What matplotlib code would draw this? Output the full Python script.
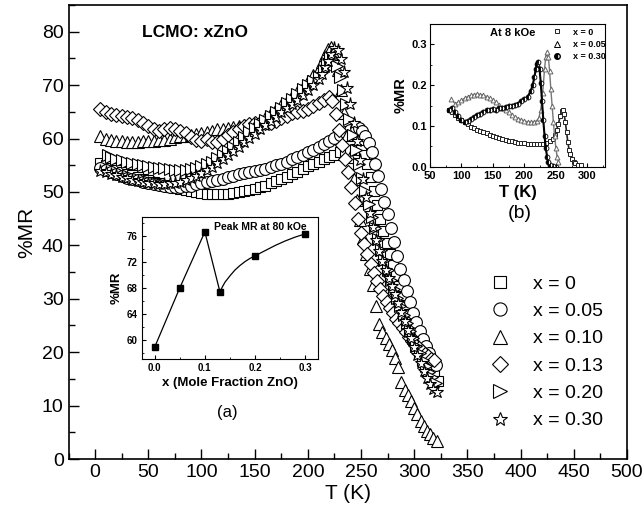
import matplotlib
matplotlib.use("Agg")
import matplotlib.pyplot as plt
from matplotlib.ticker import MultipleLocator
from matplotlib.lines import Line2D

plt.rcParams['font.family'] = ['Liberation Sans', 'DejaVu Sans']

# ---------------- main panel: %MR vs T (80 kOe) ----------------
labels = ['x = 0', 'x = 0.05', 'x = 0.10', 'x = 0.13', 'x = 0.20', 'x = 0.30']
markers = ['s', 'o', '^', 'D', '>', '*']

T_x000 = [5, 10, 15, 20, 25, 30, 35, 40, 45, 50, 55, 60, 65, 70, 75, 80, 85, 90, 95, 100,
          105, 110, 115, 120, 125, 130, 135, 140, 145, 150, 155, 160, 165, 170, 175, 180, 185, 190, 195, 200,
          205, 210, 215, 220, 225, 230, 235, 240, 245, 250,
          253, 256, 259, 262, 265, 268, 271, 274, 277, 280, 283, 286, 289, 292, 295, 298, 301, 304, 307, 310,
          313, 316, 319, 322]
MR_x000 = [55.5, 55.0, 54.5, 54.1, 53.7, 53.4, 53.1, 52.8, 52.5, 52.2, 51.9, 51.6, 51.3, 51.0, 50.8, 50.6, 50.4, 50.2, 50.0, 49.8,
           49.7, 49.6, 49.6, 49.6, 49.7, 49.8, 49.9, 50.1, 50.3, 50.6, 50.9, 51.2, 51.6, 52.0, 52.4, 52.8, 53.3, 53.8, 54.3, 54.8,
           55.3, 55.7, 56.2, 56.6, 57.0, 57.4, 57.7, 57.9, 58.0, 57.8,
           57.0, 55.2, 52.8, 50.2, 47.6, 45.0, 42.6, 40.4, 38.4, 36.4, 34.4, 32.4, 30.5, 28.8, 27.2, 25.7, 24.2, 22.8, 21.5, 20.2,
           18.8, 17.4, 16.0, 14.6]

T_x005 = [5, 10, 15, 20, 25, 30, 35, 40, 45, 50, 55, 60, 65, 70, 75, 80, 85, 90, 95, 100,
          105, 110, 115, 120, 125, 130, 135, 140, 145, 150, 155, 160, 165, 170, 175, 180, 185, 190, 195, 200,
          205, 210, 215, 220, 225, 230, 235, 240, 245,
          248, 251, 254, 257, 260, 263, 266, 269, 272, 275, 278, 281, 284, 287, 290, 293, 296, 299, 302, 305,
          308, 311, 314, 317, 320]
MR_x005 = [54.5, 54.1, 53.7, 53.3, 53.0, 52.7, 52.4, 52.2, 51.9, 51.7, 51.5, 51.3, 51.1, 51.0, 51.0, 51.0, 51.1, 51.2, 51.4, 51.6,
           51.8, 52.0, 52.3, 52.5, 52.8, 53.0, 53.3, 53.5, 53.7, 53.9, 54.1, 54.3, 54.6, 55.0, 55.3, 55.7, 56.1, 56.5, 56.9, 57.4,
           57.9, 58.4, 58.9, 59.5, 60.1, 60.7, 61.2, 61.6, 62.0,
           61.9, 61.4, 60.5, 59.2, 57.4, 55.3, 53.0, 50.6, 48.2, 45.8, 43.3, 40.6, 38.0, 35.6, 33.5, 31.5, 29.4, 27.4, 25.6, 24.0,
           22.5, 21.1, 19.8, 18.6, 17.6]

T_x010 = [5, 10, 15, 20, 25, 30, 35, 40, 45, 50, 55, 60, 65, 70, 75, 80, 85, 90, 95, 100,
          105, 110, 115, 120, 125, 130, 135, 140, 145, 150, 155, 160, 165, 170, 175, 180, 185, 190, 195, 200,
          205, 210,
          213, 216, 219, 222, 225, 228, 231, 234, 237, 240, 243, 246, 249, 252, 255, 258, 261, 264, 267, 270,
          273, 276, 279, 282, 285, 288, 291, 294, 297, 300, 303, 306, 309, 312, 315, 318, 321]
MR_x010 = [60.5, 60.0, 59.8, 59.6, 59.5, 59.4, 59.3, 59.4, 59.5, 59.6, 59.6, 59.7, 59.8, 60.0, 60.2, 60.4, 60.5, 60.7, 60.9, 61.0,
           61.2, 61.5, 61.7, 61.8, 62.0, 62.2, 62.3, 62.5, 62.6, 62.8, 63.2, 63.9, 64.7, 65.5, 66.3, 67.1, 67.9, 68.7, 69.7, 70.8,
           71.9, 73.0,
           74.4, 75.7, 76.8, 77.2, 75.8, 72.8, 69.0, 64.8, 60.6, 56.5, 52.4, 48.5, 44.8, 41.4, 38.3, 35.5, 32.6, 28.6, 25.3, 23.8,
           22.7, 21.6, 20.4, 18.9, 17.3, 14.5, 13.0, 12.0, 10.9, 9.6, 8.5, 7.2, 6.1, 5.3, 4.7, 4.0, 3.3]

T_x013 = [5, 10, 15, 20, 25, 30, 35, 40, 45, 50, 55, 60, 65, 70, 75, 80, 85, 90, 95, 100,
          105, 110, 115, 120, 125, 130, 135, 140, 145, 150, 155, 160, 165, 170, 175, 180, 185, 190, 195, 200,
          205, 210, 215, 220,
          223, 226, 229, 232, 235, 238, 241, 244, 247, 250, 253, 256, 259, 262, 265, 268, 271, 274, 277, 280,
          283, 286, 289, 292, 295, 298, 301, 304, 307, 310, 313, 316, 319]
MR_x013 = [65.5, 65.0, 64.6, 64.4, 64.2, 64.0, 63.8, 63.5, 63.0, 62.3, 61.7, 61.5, 61.8, 62.0, 61.8, 61.5, 61.0, 60.2, 59.8, 59.6,
           59.9, 59.3, 59.4, 60.0, 60.7, 61.2, 61.8, 62.3, 62.7, 63.0, 63.0, 62.9, 63.0, 63.3, 63.8, 64.3, 64.7, 65.0, 65.2, 65.6,
           66.1, 66.7, 67.3, 67.8,
           67.0, 64.6, 61.6, 58.8, 56.2, 53.8, 51.0, 48.0, 45.0, 42.4, 40.2, 38.3, 36.5, 34.8, 33.3, 31.9, 30.6, 29.4, 28.3, 27.3,
           26.3, 25.4, 24.5, 23.7, 22.9, 22.1, 21.4, 20.8, 20.2, 19.7, 19.2, 18.8, 18.5]

T_x020 = [12, 15, 20, 25, 30, 35, 40, 45, 50, 55, 60, 65, 70, 75, 80, 85, 90, 95, 100,
          105, 110, 115, 120, 125, 130, 135, 140, 145, 150, 155, 160, 165, 170, 175, 180, 185, 190, 195, 200,
          205, 210, 215,
          218, 221, 224, 227, 230, 233, 236, 239, 242, 245, 248, 251, 254, 257, 260, 263, 266, 269, 272, 275,
          278, 281, 284, 287, 290, 293, 296, 299, 302, 305, 308, 311, 314, 317, 320]
MR_x020 = [57.0, 56.6, 56.2, 55.9, 55.6, 55.4, 55.2, 55.0, 54.8, 54.7, 54.5, 54.4, 54.3, 54.2, 54.2, 54.2, 54.3, 54.5, 54.8,
           55.2, 55.7, 56.3, 57.0, 57.7, 58.5, 59.4, 60.3, 61.2, 62.0, 62.8, 63.5, 64.3, 65.0, 65.8, 66.6, 67.4, 68.3, 69.2, 70.0,
           70.8, 71.6, 72.8,
           74.2, 75.3, 75.0, 73.6, 71.5, 69.0, 66.4, 63.6, 60.7, 57.9, 55.2, 52.6, 50.1, 47.7, 45.4, 43.2, 41.1, 39.1, 37.2, 35.3,
           33.5, 31.8, 30.2, 28.6, 27.0, 25.5, 24.0, 22.6, 21.2, 19.9, 18.6, 17.4, 16.3, 15.3, 14.3]

T_x030 = [5, 10, 15, 20, 25, 30, 35, 40, 45, 50, 55, 60, 65, 70, 75, 80, 85, 90, 95, 100,
          105, 110, 115, 120, 125, 130, 135, 140, 145, 150, 155, 160, 165, 170, 175, 180, 185, 190, 195, 200,
          205, 210,
          213, 216, 219, 222, 225, 228, 231, 234, 237, 240, 243, 246, 249, 252, 255, 258, 261, 264, 267, 270,
          273, 276, 279, 282, 285, 288, 291, 294, 297, 300, 303, 306, 309, 312, 315, 318, 321]
MR_x030 = [54.0, 53.7, 53.4, 53.1, 52.8, 52.6, 52.3, 52.1, 51.9, 51.7, 51.6, 51.5, 51.5, 51.6, 51.7, 51.9, 52.2, 52.6, 53.0, 53.5,
           54.1, 54.7, 55.4, 56.1, 56.9, 57.7, 58.5, 59.3, 60.1, 60.9, 61.7, 62.5, 63.3, 64.1, 64.9, 65.7, 66.5, 67.3, 68.1, 69.0,
           70.0, 71.1,
           72.1, 73.3, 74.6, 75.9, 77.0, 76.6, 74.8, 72.4, 69.5, 66.4, 63.0, 59.5, 56.0, 52.5, 49.0, 46.0, 43.4, 41.0, 38.9, 37.0,
           35.4, 33.9, 32.4, 30.9, 29.3, 27.6, 25.9, 24.2, 22.6, 21.0, 19.4, 17.9, 16.5, 15.2, 14.1, 13.2, 12.6]

# ---------------- inset (a): peak MR vs x ----------------
a_x = [0.0, 0.05, 0.10, 0.13, 0.20, 0.30]
a_peak = [58.8, 68.0, 76.7, 67.4, 73.0, 76.4]
# hand-drawn guide curve
a_curve_x = [0.13, 0.135, 0.14, 0.15, 0.16, 0.17, 0.18, 0.19, 0.20, 0.22, 0.24, 0.26, 0.28, 0.30]
a_curve_y = [67.4, 68.2, 68.9, 69.9, 70.8, 71.5, 72.1, 72.6, 73.0, 73.8, 74.6, 75.3, 75.9, 76.4]

# ---------------- inset (b): %MR at 8 kOe ----------------
b_labels = ['x = 0', 'x = 0.05', 'x = 0.30']
b_T0 = [80, 85, 90, 95, 100, 105, 110, 115, 120, 125, 130, 135, 140, 145, 150, 155, 160, 165, 170, 175,
        180, 185, 190, 195, 200, 205, 210, 215, 220, 225, 230, 235, 240, 245,
        248, 251, 254, 257, 259, 261, 263, 265, 267, 269, 271, 273, 275, 278, 281, 285, 290]
b_MR0 = [0.140, 0.135, 0.128, 0.120, 0.115, 0.110, 0.105, 0.098, 0.094, 0.090, 0.087, 0.085, 0.082, 0.078, 0.075,
         0.072, 0.070, 0.068, 0.066, 0.064, 0.062, 0.060, 0.058, 0.057, 0.057, 0.056, 0.055, 0.055, 0.055, 0.055,
         0.056, 0.058, 0.062, 0.068,
         0.078, 0.090, 0.105, 0.125, 0.136, 0.140, 0.130, 0.110, 0.085, 0.060, 0.042, 0.030, 0.020, 0.012, 0.008,
         0.005, 0.003]
b_T1 = [84, 90, 95, 100, 105, 110, 115, 120, 125, 130, 135, 140, 145, 150, 155, 160, 165, 170, 175, 180,
        185, 190, 195, 200, 205, 210, 215, 220,
        223, 226, 229, 232, 234, 236, 238, 240, 242, 244, 246, 248, 250, 252, 254]
b_MR1 = [0.165, 0.155, 0.158, 0.163, 0.168, 0.172, 0.175, 0.177, 0.178, 0.177, 0.175, 0.172, 0.168, 0.163, 0.158,
         0.152, 0.145, 0.139, 0.133, 0.127, 0.122, 0.118, 0.115, 0.112, 0.110, 0.110, 0.110, 0.112,
         0.120, 0.140, 0.180, 0.240, 0.270, 0.282, 0.270, 0.235, 0.190, 0.150, 0.110, 0.075, 0.045, 0.025, 0.012]
b_T2 = [80, 85, 90, 95, 100, 105, 110, 115, 120, 125, 130, 135, 140, 145, 150, 155, 160, 165, 170, 175,
        180, 185, 190, 195, 200, 205, 210,
        213, 216, 218, 220, 222, 224, 226, 228, 230, 232, 234, 236, 238, 241, 245, 250]
b_MR2 = [0.140, 0.145, 0.135, 0.125, 0.115, 0.110, 0.112, 0.118, 0.122, 0.126, 0.130, 0.135, 0.138, 0.140, 0.142,
         0.140, 0.143, 0.145, 0.147, 0.148, 0.150, 0.152, 0.155, 0.160, 0.165, 0.172, 0.185,
         0.200, 0.220, 0.240, 0.252, 0.257, 0.240, 0.205, 0.160, 0.115, 0.075, 0.045, 0.025, 0.012, 0.005, 0.002, 0.0]

fig = plt.figure(figsize=(6.44, 5.15), dpi=100)
ax = fig.add_axes([0.1064, 0.1087, 0.8672, 0.8816])

series = [(T_x000, MR_x000), (T_x005, MR_x005), (T_x010, MR_x010),
          (T_x013, MR_x013), (T_x020, MR_x020), (T_x030, MR_x030)]
sizes = [7.5, 8.5, 8.5, 7.5, 8.5, 9.5]
for (t, mr), m, s, lab in zip(series, markers, sizes, labels):
    ax.plot(t, mr, linestyle='none', marker=m, markersize=s, markerfacecolor='white',
            markeredgecolor='black', markeredgewidth=0.8, label=lab)

ax.set_xlim(-25, 500)
ax.set_ylim(0, 85)
ax.xaxis.set_major_locator(MultipleLocator(50))
ax.xaxis.set_minor_locator(MultipleLocator(25))
ax.yaxis.set_major_locator(MultipleLocator(10))
ax.yaxis.set_minor_locator(MultipleLocator(5))
ax.tick_params(which='both', direction='in', top=False, right=False, labelsize=14)
ax.tick_params(which='major', length=7, width=1)
ax.tick_params(which='minor', length=4, width=1)
for sp in ax.spines.values():
    sp.set_linewidth(1.2)
ax.set_xlabel('T (K)', fontsize=15, labelpad=2)
ax.set_ylabel('%MR', fontsize=15, labelpad=4)
ax.text(0.1316, 0.9405, 'LCMO: xZnO', transform=ax.transAxes, fontsize=12.5,
        fontweight='bold', va='center', ha='left')

handles = [Line2D([], [], linestyle='none', marker=m, markersize=s + 1, markerfacecolor='white',
                  markeredgecolor='black', markeredgewidth=0.8) for m, s in zip(markers, sizes)]
ax.legend(handles, labels, loc='upper left', bbox_to_anchor=(0.755, 0.405), frameon=False,
          fontsize=14, handlelength=1.0, handletextpad=1.2, labelspacing=0.5,
          borderpad=0, borderaxespad=0)

# inset (a)
axa = fig.add_axes([0.2205, 0.3029, 0.2733, 0.2757])
axa.plot(a_x[:4], a_peak[:4], color='black', linewidth=0.9)
axa.plot(a_curve_x, a_curve_y, color='black', linewidth=0.9)
axa.plot(a_x, a_peak, linestyle='none', marker='s', markersize=4, color='black')
axa.set_xlim(-0.025, 0.325)
axa.set_ylim(57, 79)
axa.xaxis.set_major_locator(MultipleLocator(0.1))
axa.xaxis.set_minor_locator(MultipleLocator(0.05))
axa.yaxis.set_major_locator(MultipleLocator(4))
axa.yaxis.set_minor_locator(MultipleLocator(2))
axa.tick_params(which='both', direction='in', labelsize=7, pad=3)
axa.tick_params(which='major', length=3)
axa.tick_params(which='minor', length=1.5)
for lab in axa.get_xticklabels() + axa.get_yticklabels():
    lab.set_fontweight('bold')
axa.set_xlabel('x (Mole Fraction ZnO)', fontsize=9.5, fontweight='bold', labelpad=3)
axa.set_ylabel('%MR', fontsize=9.5, fontweight='bold', labelpad=3)
axa.text(0.67, 0.93, 'Peak MR at 80 kOe', transform=axa.transAxes, fontsize=7.5,
         fontweight='bold', ha='center', va='center')
fig.text(227 / 644, 1 - 412 / 515, '(a)', fontsize=12, ha='center', va='center')

# inset (b)
axb = fig.add_axes([0.6677, 0.6763, 0.2717, 0.2771])
axb.plot(b_T0, b_MR0, color='#222222', linewidth=1.2, marker='s', markersize=3.2,
         markerfacecolor='white', markeredgecolor='#222222', markeredgewidth=0.7)
axb.plot(b_T1, b_MR1, color='#777777', linewidth=1.0, marker='^', markersize=3.5,
         markerfacecolor='white', markeredgecolor='#666666', markeredgewidth=0.7)
axb.plot(b_T2, b_MR2, color='black', linewidth=1.5, marker='o', markersize=3.5,
         fillstyle='left', markerfacecolor='black', markerfacecoloralt='white',
         markeredgecolor='black', markeredgewidth=0.6)
axb.set_xlim(50, 328)
axb.set_ylim(0, 0.35)
axb.xaxis.set_major_locator(MultipleLocator(50))
axb.xaxis.set_minor_locator(MultipleLocator(25))
axb.yaxis.set_major_locator(MultipleLocator(0.1))
axb.yaxis.set_minor_locator(MultipleLocator(0.05))
axb.tick_params(which='both', direction='in', labelsize=8, pad=2)
axb.tick_params(axis='x', pad=3)
axb.tick_params(which='major', length=3)
axb.tick_params(which='minor', length=1.5)
axb.yaxis.set_major_formatter(plt.FuncFormatter(lambda v, p: f'{v:.1f}'))
for lab in axb.get_xticklabels() + axb.get_yticklabels():
    lab.set_fontweight('bold')
axb.set_xlabel('T (K)', fontsize=12, fontweight='bold', labelpad=3)
axb.set_ylabel('%MR', fontsize=10.5, fontweight='bold', labelpad=3)
axb.text(0.474, 0.937, 'At 8 kOe', transform=axb.transAxes, fontsize=8,
         fontweight='bold', ha='center', va='center')
b_handles = [Line2D([], [], linestyle='none', marker='s', markersize=3.5, markerfacecolor='white',
                    markeredgecolor='#222222', markeredgewidth=0.7),
             Line2D([], [], linestyle='none', marker='^', markersize=4, markerfacecolor='white',
                    markeredgecolor='black', markeredgewidth=0.7),
             Line2D([], [], linestyle='none', marker='o', markersize=4, fillstyle='left',
                    markerfacecolor='black', markerfacecoloralt='white', markeredgecolor='black')]
axb.legend(b_handles, b_labels, loc='upper left', bbox_to_anchor=(0.70, 0.975), frameon=False,
           prop={'size': 6.5, 'weight': 'bold'}, handlelength=1.0, handletextpad=1.3,
           labelspacing=0.35, borderpad=0, borderaxespad=0)
fig.text(520 / 644, 1 - 213 / 515, '(b)', fontsize=14, ha='center', va='center')

fig.savefig('out.png', dpi=100)
